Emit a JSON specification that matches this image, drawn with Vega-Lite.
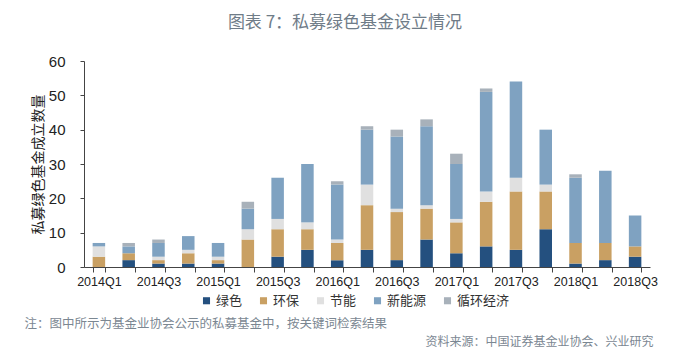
{
  "$schema": "https://vega.github.io/schema/vega-lite/v6.json",
  "width": 566,
  "height": 206,
  "autosize": {"type": "none"},
  "padding": {"left": 84, "top": 61, "right": 31, "bottom": 84},
  "background": "white",
  "config": {"view": {"stroke": null}},
  "title": {"text": "图表 7：私募绿色基金设立情况", "anchor": "middle", "dx": -22, "offset": 22, "fontSize": 17, "font": "Noto Sans CJK SC", "fontWeight": "normal", "color": "#6f7c88"},
  "data": {"values": [
    {"quarter": "2014Q1", "type": "环保", "count": 3, "k": 2},
    {"quarter": "2014Q1", "type": "节能", "count": 3, "k": 3},
    {"quarter": "2014Q1", "type": "新能源", "count": 1, "k": 4},
    {"quarter": "2014Q2", "type": "绿色", "count": 2, "k": 1},
    {"quarter": "2014Q2", "type": "环保", "count": 2, "k": 2},
    {"quarter": "2014Q2", "type": "新能源", "count": 2, "k": 4},
    {"quarter": "2014Q2", "type": "循环经济", "count": 1, "k": 5},
    {"quarter": "2014Q3", "type": "绿色", "count": 1, "k": 1},
    {"quarter": "2014Q3", "type": "环保", "count": 1, "k": 2},
    {"quarter": "2014Q3", "type": "节能", "count": 1, "k": 3},
    {"quarter": "2014Q3", "type": "新能源", "count": 4, "k": 4},
    {"quarter": "2014Q3", "type": "循环经济", "count": 1, "k": 5},
    {"quarter": "2014Q4", "type": "绿色", "count": 1, "k": 1},
    {"quarter": "2014Q4", "type": "环保", "count": 3, "k": 2},
    {"quarter": "2014Q4", "type": "节能", "count": 1, "k": 3},
    {"quarter": "2014Q4", "type": "新能源", "count": 4, "k": 4},
    {"quarter": "2015Q1", "type": "绿色", "count": 1, "k": 1},
    {"quarter": "2015Q1", "type": "环保", "count": 1, "k": 2},
    {"quarter": "2015Q1", "type": "节能", "count": 1, "k": 3},
    {"quarter": "2015Q1", "type": "新能源", "count": 4, "k": 4},
    {"quarter": "2015Q2", "type": "环保", "count": 8, "k": 2},
    {"quarter": "2015Q2", "type": "节能", "count": 3, "k": 3},
    {"quarter": "2015Q2", "type": "新能源", "count": 6, "k": 4},
    {"quarter": "2015Q2", "type": "循环经济", "count": 2, "k": 5},
    {"quarter": "2015Q3", "type": "绿色", "count": 3, "k": 1},
    {"quarter": "2015Q3", "type": "环保", "count": 8, "k": 2},
    {"quarter": "2015Q3", "type": "节能", "count": 3, "k": 3},
    {"quarter": "2015Q3", "type": "新能源", "count": 12, "k": 4},
    {"quarter": "2015Q4", "type": "绿色", "count": 5, "k": 1},
    {"quarter": "2015Q4", "type": "环保", "count": 6, "k": 2},
    {"quarter": "2015Q4", "type": "节能", "count": 2, "k": 3},
    {"quarter": "2015Q4", "type": "新能源", "count": 17, "k": 4},
    {"quarter": "2016Q1", "type": "绿色", "count": 2, "k": 1},
    {"quarter": "2016Q1", "type": "环保", "count": 5, "k": 2},
    {"quarter": "2016Q1", "type": "节能", "count": 1, "k": 3},
    {"quarter": "2016Q1", "type": "新能源", "count": 16, "k": 4},
    {"quarter": "2016Q1", "type": "循环经济", "count": 1, "k": 5},
    {"quarter": "2016Q2", "type": "绿色", "count": 5, "k": 1},
    {"quarter": "2016Q2", "type": "环保", "count": 13, "k": 2},
    {"quarter": "2016Q2", "type": "节能", "count": 6, "k": 3},
    {"quarter": "2016Q2", "type": "新能源", "count": 16, "k": 4},
    {"quarter": "2016Q2", "type": "循环经济", "count": 1, "k": 5},
    {"quarter": "2016Q3", "type": "绿色", "count": 2, "k": 1},
    {"quarter": "2016Q3", "type": "环保", "count": 14, "k": 2},
    {"quarter": "2016Q3", "type": "节能", "count": 1, "k": 3},
    {"quarter": "2016Q3", "type": "新能源", "count": 21, "k": 4},
    {"quarter": "2016Q3", "type": "循环经济", "count": 2, "k": 5},
    {"quarter": "2016Q4", "type": "绿色", "count": 8, "k": 1},
    {"quarter": "2016Q4", "type": "环保", "count": 9, "k": 2},
    {"quarter": "2016Q4", "type": "节能", "count": 1, "k": 3},
    {"quarter": "2016Q4", "type": "新能源", "count": 23, "k": 4},
    {"quarter": "2016Q4", "type": "循环经济", "count": 2, "k": 5},
    {"quarter": "2017Q1", "type": "绿色", "count": 4, "k": 1},
    {"quarter": "2017Q1", "type": "环保", "count": 9, "k": 2},
    {"quarter": "2017Q1", "type": "节能", "count": 1, "k": 3},
    {"quarter": "2017Q1", "type": "新能源", "count": 16, "k": 4},
    {"quarter": "2017Q1", "type": "循环经济", "count": 3, "k": 5},
    {"quarter": "2017Q2", "type": "绿色", "count": 6, "k": 1},
    {"quarter": "2017Q2", "type": "环保", "count": 13, "k": 2},
    {"quarter": "2017Q2", "type": "节能", "count": 3, "k": 3},
    {"quarter": "2017Q2", "type": "新能源", "count": 29, "k": 4},
    {"quarter": "2017Q2", "type": "循环经济", "count": 1, "k": 5},
    {"quarter": "2017Q3", "type": "绿色", "count": 5, "k": 1},
    {"quarter": "2017Q3", "type": "环保", "count": 17, "k": 2},
    {"quarter": "2017Q3", "type": "节能", "count": 4, "k": 3},
    {"quarter": "2017Q3", "type": "新能源", "count": 28, "k": 4},
    {"quarter": "2017Q4", "type": "绿色", "count": 11, "k": 1},
    {"quarter": "2017Q4", "type": "环保", "count": 11, "k": 2},
    {"quarter": "2017Q4", "type": "节能", "count": 2, "k": 3},
    {"quarter": "2017Q4", "type": "新能源", "count": 16, "k": 4},
    {"quarter": "2018Q1", "type": "绿色", "count": 1, "k": 1},
    {"quarter": "2018Q1", "type": "环保", "count": 6, "k": 2},
    {"quarter": "2018Q1", "type": "新能源", "count": 19, "k": 4},
    {"quarter": "2018Q1", "type": "循环经济", "count": 1, "k": 5},
    {"quarter": "2018Q2", "type": "绿色", "count": 2, "k": 1},
    {"quarter": "2018Q2", "type": "环保", "count": 5, "k": 2},
    {"quarter": "2018Q2", "type": "新能源", "count": 21, "k": 4},
    {"quarter": "2018Q3", "type": "绿色", "count": 3, "k": 1},
    {"quarter": "2018Q3", "type": "环保", "count": 3, "k": 2},
    {"quarter": "2018Q3", "type": "新能源", "count": 9, "k": 4}
  ]},
  "layer": [
    {
      "mark": {"type": "bar"},
      "encoding": {
        "x": {
          "field": "quarter", "type": "ordinal", "sort": null,
          "scale": {"domain": ["2014Q1","2014Q2","2014Q3","2014Q4","2015Q1","2015Q2","2015Q3","2015Q4","2016Q1","2016Q2","2016Q3","2016Q4","2017Q1","2017Q2","2017Q3","2017Q4","2018Q1","2018Q2","2018Q3"], "paddingInner": 0.58, "paddingOuter": 0.29},
          "axis": {
            "title": "注：图中所示为基金业协会公示的私募基金中，按关键词检索结果",
            "titleX": -60, "titleY": 56, "titleAlign": "left", "titleAnchor": "start", "titleBaseline": "middle",
            "titleFontSize": 12.5, "titleFontWeight": "normal", "titleColor": "#7b8792", "titleFont": "Noto Sans CJK SC",
            "labelAngle": 0, "labelExpr": "test(/Q[13]$/, datum.value) ? datum.value : ''", "labelOverlap": false,
            "tickBand": "extent", "tickSize": 5, "labelPadding": 3,
            "labelFont": "Liberation Sans", "labelFontSize": 12.5, "labelColor": "#222",
            "domainColor": "#444", "tickColor": "#444"
          }
        },
        "y": {
          "field": "count", "type": "quantitative",
          "scale": {"domain": [0, 60]},
          "axis": {
            "title": "私募绿色基金成立数量", "values": [0,10,20,30,40,50,60], "grid": false,
            "tickSize": 4, "labelPadding": 15, "labelFontSize": 15, "labelFont": "Liberation Sans", "labelColor": "#222",
            "titleFontSize": 14, "titleFont": "Noto Sans CJK SC", "titleFontWeight": "normal", "titleColor": "#222", "titlePadding": 3,
            "domainColor": "#444", "tickColor": "#444"
          }
        },
        "color": {
          "field": "type", "type": "nominal",
          "scale": {"domain": ["绿色","环保","节能","新能源","循环经济"], "range": ["#24507f","#c9a063","#e0e0e0","#7fa2c1","#a8b1ba"]},
          "legend": {
            "title": null, "orient": "none", "legendX": 116, "legendY": 233, "direction": "horizontal",
            "symbolType": "square", "symbolSize": 50, "symbolStrokeWidth": 0,
            "labelFontSize": 13, "labelFont": "Noto Sans CJK SC", "labelColor": "#333", "columnPadding": 14, "labelOffset": 3
          }
        },
        "order": {"field": "k", "type": "quantitative"}
      }
    },
    {
      "mark": {"type": "rule", "opacity": 0},
      "encoding": {
        "x": {
          "field": "quarter", "type": "ordinal", "sort": null,
          "axis": {
            "orient": "bottom", "labels": false, "ticks": false, "domain": false,
            "title": "资料来源：中国证券基金业协会、兴业研究",
            "titleX": 569, "titleY": 74, "titleAlign": "right", "titleAnchor": "end", "titleBaseline": "middle",
            "titleFontSize": 12, "titleFontWeight": "normal", "titleColor": "#7b8792", "titleFont": "Noto Sans CJK SC"
          }
        }
      }
    }
  ],
  "resolve": {"axis": {"x": "independent"}}
}
